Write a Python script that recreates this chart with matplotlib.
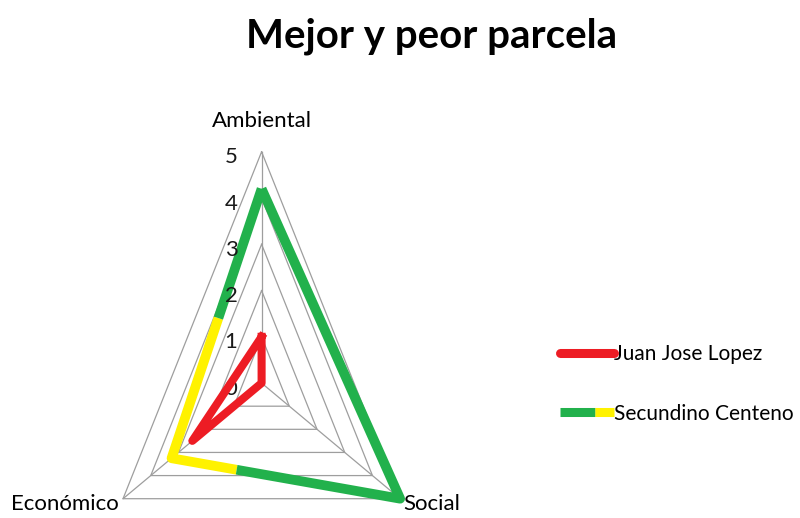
import numpy as np
import matplotlib.pyplot as plt
from matplotlib.lines import Line2D

plt.rcParams['font.family'] = ['Lato', 'DejaVu Sans']
plt.rcParams['lines.scale_dashes'] = False

# data
categories = ['Ambiental', 'Social', 'Económico']
juan = [1.0, 0.0, 2.5]
secundino = [4.2, 5.0, 3.25]
levels = [1, 2, 3, 4, 5]
series_names = ['Juan Jose Lopez', 'Secundino Centeno']

theta = np.deg2rad([0, 120, 240])
theta_c = np.append(theta, theta[0])

fig = plt.figure(figsize=(8, 5.18), dpi=100)
ax = fig.add_axes([0.127, -0.186, 0.400, 0.893], projection='polar')
ax.set_aspect('auto')
ax.set_theta_zero_location('N')
ax.set_theta_direction(-1)
ax.set_ylim(0, 5)
ax.grid(False)
ax.spines['polar'].set_visible(False)
ax.set_xticks([])
ax.set_yticks([])
ax.patch.set_visible(False)

grey = '#9e9e9e'
for lv in levels:
    ax.plot(theta_c, [lv] * 4, color=grey, lw=0.9, clip_on=False, zorder=1)
for t in theta:
    ax.plot([t, t], [0, 5], color=grey, lw=0.9, clip_on=False, zorder=1)

# radial labels
for lv in [0] + levels:
    ax.annotate(str(lv), (0, lv), xytext=(-22, -4), textcoords='offset points',
                ha='center', va='center', fontsize=16, color='#1a1a1a')

# category labels
ax.annotate(categories[0], (0, 5), xytext=(0, 22), textcoords='offset points',
            ha='center', va='center', fontsize=16)
ax.annotate(categories[1], (theta[1], 5), xytext=(2, -4), textcoords='offset points',
            ha='left', va='center', fontsize=16)
ax.annotate(categories[2], (theta[2], 5), xytext=(-3, -4), textcoords='offset points',
            ha='right', va='center', fontsize=16)

ax.plot(theta_c, juan + [juan[0]], color='#ed1c24', lw=5.8,
        solid_joinstyle='round', clip_on=False, zorder=3)
ax.plot(theta_c, secundino + [secundino[0]], color='#22b14c', lw=7.0,
        linestyle=(0, (364, 154)), gapcolor='#fff200',
        dash_joinstyle='round', clip_on=False, zorder=2)

fig.text(0.54, 0.93, 'Mejor y peor parcela', ha='center', va='center',
         fontsize=29, fontweight='bold')

handles = [Line2D([], [], color='#ed1c24', lw=6.5, solid_capstyle='round'),
           Line2D([], [], color='#22b14c', lw=6.5, linestyle=(0, (25, 40)),
                  gapcolor='#fff200')]
fig.legend(handles, series_names, loc='center left', bbox_to_anchor=(0.70, 0.259),
           frameon=False, fontsize=15, handlelength=2.6, handletextpad=0.0,
           borderpad=0, borderaxespad=0, labelspacing=1.9)

fig.savefig('out.png', dpi=100)
